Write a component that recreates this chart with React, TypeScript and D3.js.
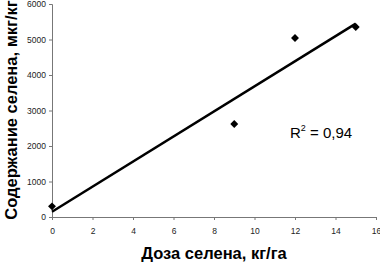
import { useEffect, useRef } from "react";
import * as d3 from "d3";

const doses = [0, 9, 12, 15];
const selenium = [300, 2620, 5040, 5350];
const xTicks = [0, 2, 4, 6, 8, 10, 12, 14, 16];
const yTicks = [0, 1000, 2000, 3000, 4000, 5000, 6000];
const rSquared = "0,94";

export default function App() {
  const ref = useRef<SVGSVGElement>(null);

  useEffect(() => {
    const svg = d3.select(ref.current);
    svg.selectAll("*").remove();

    const x = d3.scaleLinear().domain([0, 16]).range([52, 376]);
    const y = d3.scaleLinear().domain([0, 6000]).range([217, 4]);

    // linear trend
    const mx = d3.mean(doses)!;
    const my = d3.mean(selenium)!;
    const sxy = d3.sum(doses, (d, i) => (d - mx) * (selenium[i] - my));
    const sxx = d3.sum(doses, (d) => (d - mx) ** 2);
    const slope = sxy / sxx;
    const icpt = my - slope * mx;

    const font = "Arial, 'Liberation Sans', sans-serif";

    // y axis
    const ya = svg.append("g").attr("transform", `translate(${x(0)},0)`)
      .call(d3.axisLeft(y).tickValues(yTicks).tickSize(3).tickPadding(3).tickFormat(d3.format("d")));
    ya.select(".domain").attr("stroke", "#777");
    ya.selectAll("line").attr("stroke", "#777");
    ya.selectAll("text").attr("font-family", font).attr("font-size", 8.5).attr("fill", "#222");

    // x axis
    const xa = svg.append("g").attr("transform", `translate(0,${y(0)})`)
      .call(d3.axisBottom(x).tickValues(xTicks).tickSize(3).tickPadding(8).tickFormat(d3.format("d")));
    xa.select(".domain").attr("stroke", "#777");
    xa.selectAll("line").attr("stroke", "#777");
    xa.selectAll("text").attr("font-family", font).attr("font-size", 8.5).attr("fill", "#222");

    // trend line
    svg.append("line")
      .attr("x1", x(0)).attr("y1", y(icpt))
      .attr("x2", x(15)).attr("y2", y(icpt + slope * 15))
      .attr("stroke", "#000").attr("stroke-width", 2.5);

    // points
    svg.selectAll(".pt").data(doses).enter().append("path")
      .attr("class", "pt")
      .attr("d", d3.symbol(d3.symbolDiamond2, 40)())
      .attr("transform", (d, i) => `translate(${x(d)},${y(selenium[i])})`)
      .attr("fill", "#000");

    // R²
    const r = svg.append("text").attr("x", 290).attr("y", 138)
      .attr("font-family", font).attr("font-size", 15).attr("fill", "#000");
    r.append("tspan").text("R");
    r.append("tspan").attr("font-size", 9).attr("dy", -7).text("2");
    r.append("tspan").attr("dy", 7).text(` = ${rSquared}`);

    // axis titles
    svg.append("text")
      .attr("x", 214).attr("y", 259)
      .attr("text-anchor", "middle")
      .attr("font-family", font).attr("font-weight", "bold").attr("font-size", 16.5)
      .text("Доза селена, кг/га");

    svg.append("text")
      .attr("transform", "rotate(-90)")
      .attr("x", -110).attr("y", 17)
      .attr("text-anchor", "middle")
      .attr("font-family", font).attr("font-weight", "bold").attr("font-size", 16.5)
      .text("Содержание селена, мкг/кг");
  }, []);

  return (
    <svg ref={ref} width={380} height={265}
      style={{ position: "absolute", left: 0, top: 0, background: "#fff" }} />
  );
}
